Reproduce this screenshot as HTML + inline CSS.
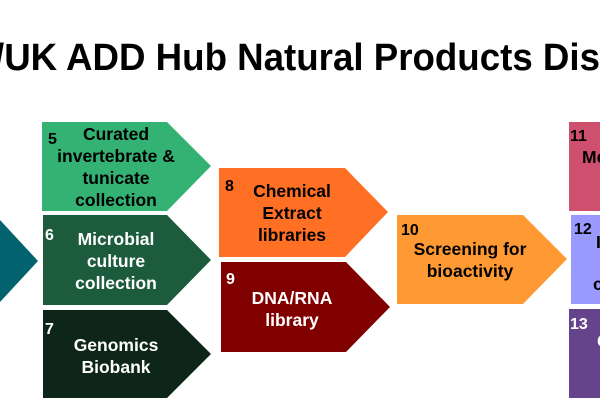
<!DOCTYPE html>
<html><head><meta charset="utf-8"><style>
html,body{margin:0;padding:0;background:#fff;width:600px;height:400px;overflow:hidden}
text{font-family:"Liberation Sans",Arial,sans-serif;font-weight:bold}
</style></head><body>
<svg width="600" height="400" viewBox="0 0 600 400" xmlns="http://www.w3.org/2000/svg">
<text x="-6" y="70" font-size="38" textLength="606" lengthAdjust="spacingAndGlyphs" fill="#000">/UK ADD Hub Natural Products Dis</text>
<polygon points="0,220 38,261 0,302" fill="#02636e"/>
<polygon points="42,122 167,122 211,166 167,211 42,211" fill="#33b273"/>
<polygon points="43,215 167,215 211,260 167,305 43,305" fill="#1c5b3c"/>
<polygon points="43,310 167,310 211,354 167,398 43,398" fill="#0d2619"/>
<polygon points="219,168 345,168 388,212 345,257 219,257" fill="#ff6f24"/>
<polygon points="221,262 346,262 390,307 346,352 221,352" fill="#800000"/>
<polygon points="397,215 523,215 567,259 523,304 397,304" fill="#ff9933"/>
<rect x="569" y="122" width="31" height="89" fill="#cf4f6e"/>
<rect x="571" y="215" width="29" height="89" fill="#9999ff"/>
<rect x="569" y="309" width="31" height="89" fill="#65448c"/>
<g font-size="17.5" text-anchor="middle">
<text x="116" y="140" fill="#000">Curated</text>
<text x="116" y="162" fill="#000">invertebrate &amp;</text>
<text x="116" y="184" fill="#000">tunicate</text>
<text x="116" y="206" fill="#000">collection</text>
<text x="116" y="245" fill="#fff">Microbial</text>
<text x="116" y="267" fill="#fff">culture</text>
<text x="116" y="289" fill="#fff">collection</text>
<text x="116" y="351" fill="#fff">Genomics</text>
<text x="116" y="373" fill="#fff">Biobank</text>
<text x="292" y="197" fill="#000">Chemical</text>
<text x="292" y="219" fill="#000">Extract</text>
<text x="292" y="241" fill="#000">libraries</text>
<text x="292" y="304" fill="#fff">DNA/RNA</text>
<text x="292" y="326" fill="#fff">library</text>
<text x="470" y="255" fill="#000">Screening for</text>
<text x="470" y="277" fill="#000">bioactivity</text>
</g>
<g font-size="16">
<text x="48" y="144" fill="#000">5</text>
<text x="45" y="240" fill="#fff">6</text>
<text x="45" y="334" fill="#fff">7</text>
<text x="225" y="191" fill="#000">8</text>
<text x="226" y="284" fill="#fff">9</text>
<text x="401" y="235" fill="#000">10</text>
<text x="570" y="141" fill="#000">11</text>
<text x="574" y="234" fill="#000">12</text>
<text x="570" y="329" fill="#fff">13</text>
<text x="582" y="163" font-size="17.5" fill="#000">Me</text>
<text x="596" y="248" font-size="17.5" fill="#000">I</text>
<text x="593" y="290" font-size="17.5" fill="#000">c</text>
<text x="597" y="347" font-size="17.5" fill="#fff">C</text>
</g>
</svg>
</body></html>
